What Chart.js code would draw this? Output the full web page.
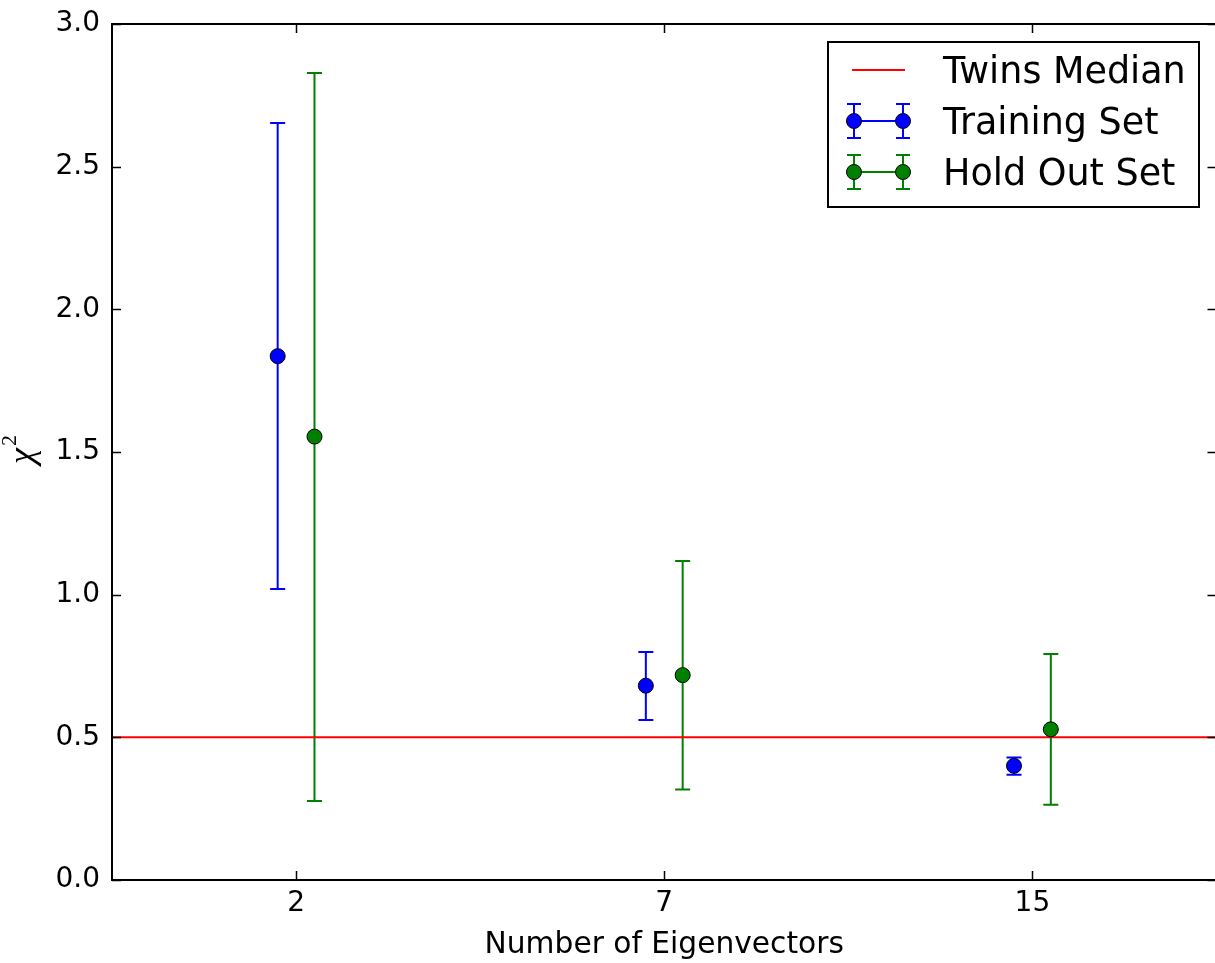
<!DOCTYPE html>
<html>
<head>
<meta charset="utf-8">
<script src="https://cdn.jsdelivr.net/npm/chart.js@4/dist/chart.umd.min.js"></script>
<style>
  html, body { margin: 0; padding: 0; background: #fff; overflow: hidden; }
  #wrap { position: relative; width: 1225px; height: 963px; }
</style>
</head>
<body>
<div id="wrap"><canvas id="chart"></canvas></div>
<script>
// chi-square per number of eigenvectors
const categories = ['2', '7', '15']
const trainMean = [1.836, 0.681, 0.400]
const trainLow = [1.020, 0.561, 0.369]
const trainHigh = [2.653, 0.799, 0.429]
const holdMean = [1.554, 0.718, 0.528]
const holdLow = [0.277, 0.317, 0.264]
const holdHigh = [2.828, 1.118, 0.792]
const twinsMedian = 0.5
const yTicks = [0, 0.5, 1.0, 1.5, 2.0, 2.5, 3.0]

const dodge = 0.05
const FONT = "'DejaVu Sans', sans-serif"

const toPoints = (vals, shift) => vals.map((v, i) => ({ x: i + shift, y: v }))

// vertical error bars with caps, drawn under the markers
const errorBars = {
  id: 'errorBars',
  beforeDatasetsDraw(chart) {
    const { ctx, scales: { y } } = chart
    chart.data.datasets.forEach((ds, i) => {
      if (!ds.errLow) return
      const meta = chart.getDatasetMeta(i)
      ctx.save()
      ctx.strokeStyle = ds.errColor
      ctx.lineWidth = 2
      meta.data.forEach((pt, j) => {
        const top = y.getPixelForValue(ds.errHigh[j])
        const bot = y.getPixelForValue(ds.errLow[j])
        ctx.beginPath()
        ctx.moveTo(pt.x, top); ctx.lineTo(pt.x, bot)
        ctx.moveTo(pt.x - 7.5, top); ctx.lineTo(pt.x + 7.5, top)
        ctx.moveTo(pt.x - 7.5, bot); ctx.lineTo(pt.x + 7.5, bot)
        ctx.stroke()
      })
      ctx.restore()
    })
  }
}

// box frame with inward ticks on all four sides, y label and the legend
const frame = {
  id: 'frame',
  afterDraw(chart) {
    const { ctx, chartArea: a, scales: { x, y } } = chart
    ctx.save()
    ctx.strokeStyle = '#000'
    ctx.lineWidth = 1.5
    ctx.beginPath()
    yTicks.forEach(v => {
      const py = Math.round(y.getPixelForValue(v)) + 0.5
      ctx.moveTo(a.left, py); ctx.lineTo(a.left + 9, py)
      ctx.moveTo(a.right, py); ctx.lineTo(a.right - 9, py)
    })
    categories.forEach((c, i) => {
      const px = Math.round(x.getPixelForValue(i)) + 0.5
      ctx.moveTo(px, a.bottom); ctx.lineTo(px, a.bottom - 9)
      ctx.moveTo(px, a.top); ctx.lineTo(px, a.top + 9)
    })
    ctx.stroke()
    ctx.lineWidth = 2
    ctx.strokeRect(a.left, a.top, a.right - a.left, a.bottom - a.top)

    // y axis label: chi squared
    ctx.save()
    ctx.translate(33, (a.top + a.bottom) / 2)
    ctx.rotate(-Math.PI / 2)
    ctx.fillStyle = '#000'
    ctx.textBaseline = 'alphabetic'
    ctx.textAlign = 'left'
    ctx.font = "italic 36px 'Liberation Serif', serif"
    const w = ctx.measureText('χ').width
    ctx.fillText('χ', -w / 2 - 4, 0)
    ctx.font = "22px 'Liberation Serif', serif"
    ctx.fillText('2', w / 2 - 2, -17)
    ctx.restore()

    // legend
    const lx = 828, ly = 42, lw = 371, lh = 165
    ctx.fillStyle = '#fff'
    ctx.fillRect(lx, ly, lw, lh)
    ctx.strokeRect(lx, ly, lw, lh)
    const rows = [
      { label: 'Twins Median', color: '#ff0000', kind: 'line', y: 70 },
      { label: 'Training Set', color: '#0000ff', fill: '#0000ff', kind: 'err', y: 121 },
      { label: 'Hold Out Set', color: '#008000', fill: '#008000', kind: 'err', y: 172 }
    ]
    const x0 = 854, x1 = 903
    rows.forEach(r => {
      ctx.strokeStyle = r.color
      ctx.lineWidth = 2
      ctx.beginPath()
      ctx.moveTo(x0 - 2, r.y); ctx.lineTo(x1 + 2, r.y)
      if (r.kind === 'err') {
        ;[x0, x1].forEach(px => {
          ctx.moveTo(px, r.y - 17); ctx.lineTo(px, r.y + 17)
          ctx.moveTo(px - 7, r.y - 17); ctx.lineTo(px + 7, r.y - 17)
          ctx.moveTo(px - 7, r.y + 17); ctx.lineTo(px + 7, r.y + 17)
        })
      }
      ctx.stroke()
      if (r.kind === 'err') {
        ;[x0, x1].forEach(px => {
          ctx.beginPath()
          ctx.arc(px, r.y, 7.5, 0, Math.PI * 2)
          ctx.fillStyle = r.fill
          ctx.fill()
          ctx.lineWidth = 1
          ctx.strokeStyle = '#000'
          ctx.stroke()
        })
      }
      ctx.fillStyle = '#000'
      ctx.font = `36.5px ${FONT}`
      ctx.textBaseline = 'alphabetic'
      ctx.textAlign = 'left'
      ctx.fillText(r.label, 943, r.y + 13)
    })
    ctx.restore()
  }
}

Chart.defaults.font.family = FONT
Chart.defaults.color = '#000'

new Chart(document.getElementById('chart'), {
  type: 'scatter',
  data: {
    datasets: [
      {
        label: 'Training Set',
        data: toPoints(trainMean, -dodge),
        errLow: trainLow, errHigh: trainHigh, errColor: '#0000ff',
        backgroundColor: '#0000ff', borderColor: '#000', borderWidth: 1,
        pointRadius: 7.5, pointHoverRadius: 7.5
      },
      {
        label: 'Hold Out Set',
        data: toPoints(holdMean, dodge),
        errLow: holdLow, errHigh: holdHigh, errColor: '#008000',
        backgroundColor: '#008000', borderColor: '#000', borderWidth: 1,
        pointRadius: 7.5, pointHoverRadius: 7.5
      },
      {
        type: 'line',
        label: 'Twins Median',
        data: [{ x: -0.5, y: twinsMedian }, { x: categories.length - 0.5, y: twinsMedian }],
        borderColor: '#ff0000', borderWidth: 2, pointRadius: 0, fill: false
      }
    ]
  },
  options: {
    responsive: true,
    maintainAspectRatio: false,
    animation: false,
    layout: { padding: { top: 24, right: 1, left: 0, bottom: 0 } },
    plugins: { legend: { display: false }, tooltip: { enabled: false } },
    scales: {
      x: {
        type: 'linear',
        min: -0.5,
        max: categories.length - 0.5,
        afterBuildTicks: s => { s.ticks = categories.map((c, i) => ({ value: i })) },
        afterFit: s => { s.height = 83; s.paddingLeft = 0; s.paddingRight = 0 },
        grid: { display: false, drawTicks: false },
        border: { display: false },
        ticks: { font: { size: 28 }, padding: 7, callback: v => categories[v] },
        title: { display: true, text: 'Number of Eigenvectors', font: { size: 29.7 }, padding: { top: 0, bottom: 0 } }
      },
      y: {
        min: 0,
        max: 3,
        afterBuildTicks: s => { s.ticks = yTicks.map(v => ({ value: v })) },
        afterFit: s => { s.width = 112; s.paddingTop = 0; s.paddingBottom = 0 },
        grid: { display: false, drawTicks: false },
        border: { display: false },
        ticks: { font: { size: 28 }, padding: 12, callback: v => v.toFixed(1) }
      }
    }
  },
  plugins: [errorBars, frame]
})
</script>
</body>
</html>
